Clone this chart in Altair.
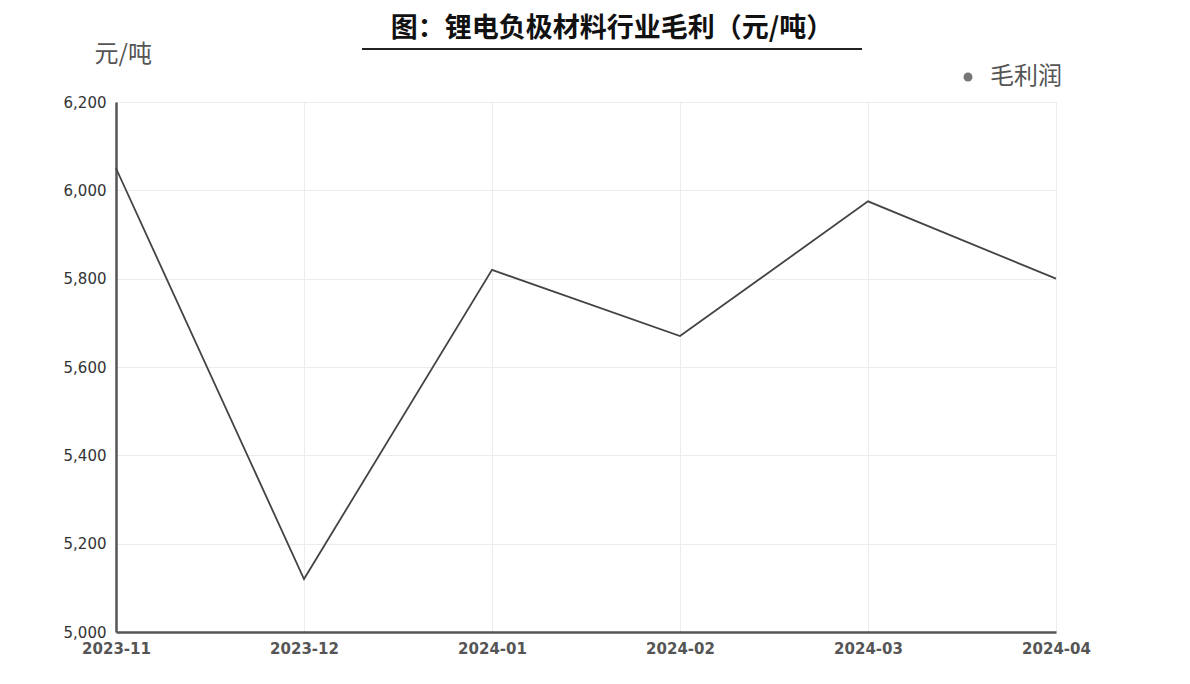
import altair as alt
import pandas as pd

months = ["2023-11", "2023-12", "2024-01", "2024-02", "2024-03", "2024-04"]
profit = [6050, 5120, 5820, 5670, 5975, 5800]
series_name = "毛利润"
y_ticks = [5000, 5200, 5400, 5600, 5800, 6000, 6200]
title_text = "图：锂电负极材料行业毛利（元/吨）"

df = pd.DataFrame({"month": months, "value": profit, "series": [series_name] * len(months)})
title_df = pd.DataFrame({"t": [title_text]})

W, H = 940, 530

line = alt.Chart(df).mark_line(strokeWidth=1.8).encode(
    x=alt.X("month:O", sort=months,
            scale=alt.Scale(type="point", padding=0),
            axis=alt.Axis(title=None, labelAngle=0, labelFontSize=15, labelColor="#555",
                          labelFontWeight="bold", labelFont="DejaVu Sans", labelPadding=9,
                          ticks=False, domainColor="#555", domainWidth=2.5,
                          grid=True, gridColor="#ececec", gridWidth=1)),
    y=alt.Y("value:Q", scale=alt.Scale(domain=[5000, 6200], nice=False, zero=False),
            axis=alt.Axis(values=y_ticks, format=",d", title="元/吨", titleAngle=0,
                          titleX=-22, titleY=-36, titleAlign="left", titleFontSize=24,
                          titleFontWeight="normal", titleColor="#555",
                          titleFont="Noto Sans CJK SC",
                          labelFontSize=15, labelColor="#333", labelFont="DejaVu Sans",
                          labelPadding=10, ticks=False, domainColor="#555", domainWidth=2.5,
                          grid=True, gridColor="#ececec", gridWidth=1)),
    color=alt.Color("series:N", scale=alt.Scale(range=["#444444"]),
                    legend=alt.Legend(title=None, orient="none", legendX=840, legendY=-37,
                                      symbolType="circle", symbolSize=80,
                                      symbolFillColor="#777", symbolStrokeColor="#777",
                                      symbolStrokeWidth=0, labelOffset=10,
                                      labelFontSize=24, labelColor="#555",
                                      labelFont="Noto Sans CJK SC")),
)

title = alt.Chart(title_df).mark_text(fontSize=27, fontWeight="bold", font="Noto Sans CJK SC",
                                      color="#111", align="center", baseline="middle").encode(
    x=alt.value(496), y=alt.value(-73), text="t:N"
)

underline = alt.Chart(title_df).mark_rule(color="#222", strokeWidth=2).encode(
    x=alt.value(246), x2=alt.value(746), y=alt.value(-53)
)

chart = alt.layer(line, title, underline).properties(
    width=W, height=H,
    autosize=alt.AutoSizeParams(type="none"),
    padding={"left": 108, "top": 94, "right": 126, "bottom": 44},
).configure_view(stroke=None).configure(background="white")

chart.save("out.html", embed_options={"renderer": "svg", "actions": False})
